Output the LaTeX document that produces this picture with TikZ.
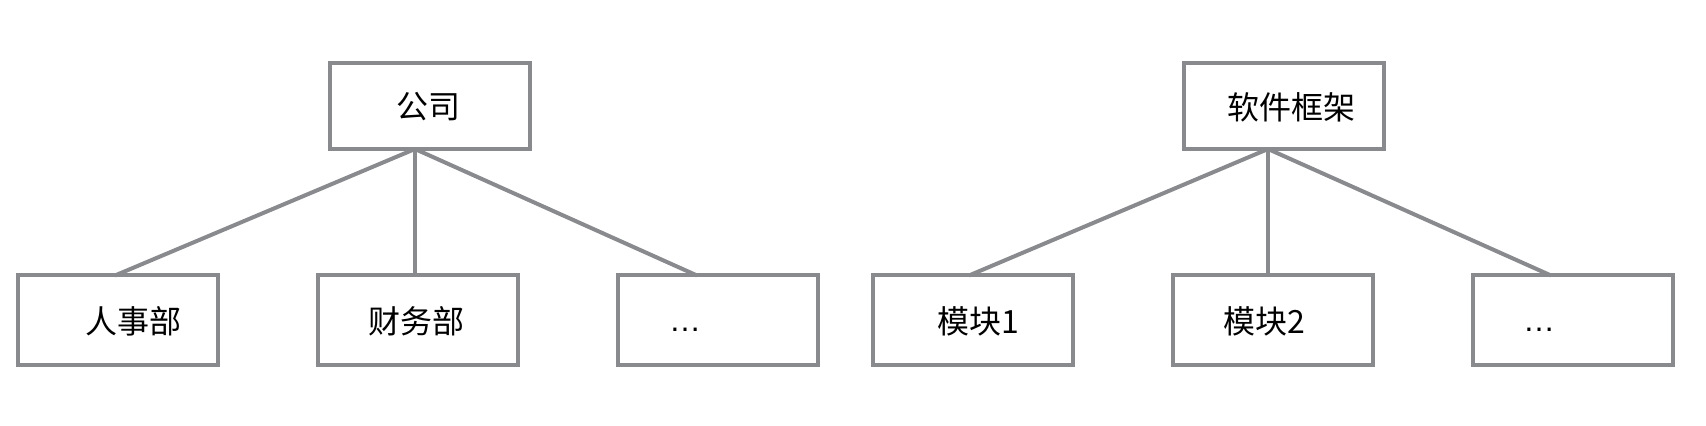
\documentclass[tikz,border=0pt]{standalone}
\usepackage{fontspec}
\usepackage{xcolor}
\usepackage{tikz}
\newfontfamily\cjk{Noto Sans CJK SC}
\newfontfamily\latinsans{Liberation Sans}
\definecolor{boxgray}{RGB}{137,138,142}

\begin{document}
\begin{tikzpicture}[x=0.5pt,y=-0.5pt,
unit/.style={draw=boxgray, line width=2pt, minimum width=100pt, minimum height=45pt, inner sep=0pt},
txt/.style={font=\cjk\fontsize{16pt}{19pt}\selectfont, inner sep=0pt},
dots/.style={font=\latinsans\fontsize{16pt}{19pt}\selectfont, inner sep=0pt},
link/.style={draw=boxgray, line width=2pt}]
\useasboundingbox (0,0) rectangle (1706,426);
% company
\node[unit, minimum height=43pt] (gs) at (430,106) {};
\node[unit] (rs) at (118,320.5) {};
\node[unit] (cw) at (418,320.5) {};
\node[unit] (qt) at (718,320.5) {};
\node[txt] (gstxt) at (428,107) {公司};
\node[txt] (rstxt) at (133,321) {人事部};
\node[txt] (cwtxt) at (416,321) {财务部};
\node[dots] (qttxt) at (685,330) {…};
\coordinate (gsroot) at (415,149);
\coordinate (rstop) at (115,275.5);
\coordinate (cwtop) at (415,275.5);
\coordinate (qttop) at (697,275.5);
\draw[link] (gsroot)--(rstop);
\draw[link] (gsroot)--(cwtop);
\draw[link] (gsroot)--(qttop);
% framework
\node[unit, minimum height=43pt] (kj) at (1284,106) {};
\node[unit] (mk1) at (973,320.5) {};
\node[unit] (mk2) at (1273,320.5) {};
\node[unit] (mk3) at (1573,320.5) {};
\node[txt] (kjtxt) at (1291,107) {软件框架};
\node[txt] (mk1txt) at (978,321) {模块1};
\node[txt] (mk2txt) at (1264,321) {模块2};
\node[dots] (mk3txt) at (1539,330) {…};
\coordinate (kjroot) at (1268,149);
\coordinate (mk1top) at (969,275.5);
\coordinate (mk2top) at (1268,275.5);
\coordinate (mk3top) at (1551,275.5);
\draw[link] (kjroot)--(mk1top);
\draw[link] (kjroot)--(mk2top);
\draw[link] (kjroot)--(mk3top);
\end{tikzpicture}
\end{document}
